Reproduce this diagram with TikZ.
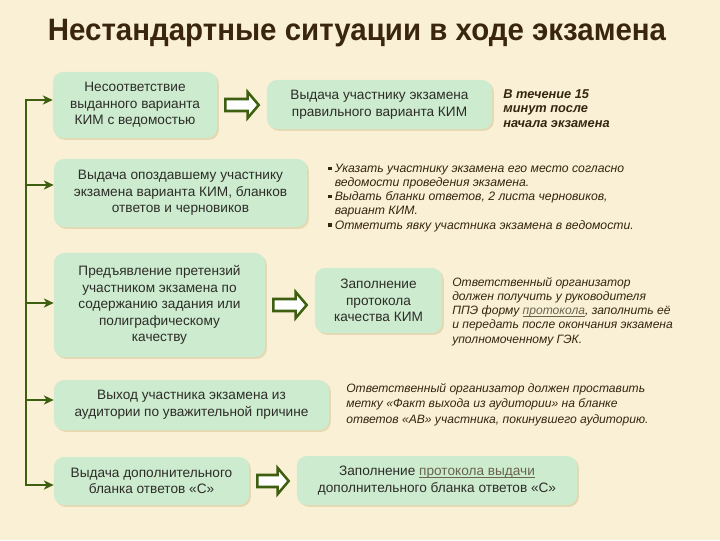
\documentclass[tikz,border=0pt]{standalone}
\usepackage{fontspec}
\setmainfont{Liberation Sans}
\usepackage{graphicx}
\usetikzlibrary{calc,shadows,arrows.meta}

\definecolor{paper}{RGB}{250,240,214}
\definecolor{mint}{RGB}{205,235,207}
\definecolor{boxshade}{RGB}{228,217,178}
\definecolor{olive}{RGB}{62,94,16}
\definecolor{headbrown}{RGB}{58,38,14}
\definecolor{notebrown}{RGB}{52,38,16}
\definecolor{boxtext}{RGB}{45,45,40}
\definecolor{linkgray}{RGB}{105,100,80}

\newcommand{\sqbul}{\makebox[4.6pt][l]{\rule[1.6pt]{2.4pt}{2.4pt}}}
\newcommand{\ind}{\hspace*{4.6pt}}
\newcommand{\ulink}[1]{{\color{linkgray}\underline{\smash{#1}}}}

% hollow block arrow from one box to the next
\newcommand{\blockarrow}[2]{%
  \draw[hollowarrow] let \p1 = ($(#1.east)+(8,0)$), \p2 = ($(#2.west |- #1.east)+(-8,0)$) in
    (\x1,{\y1+0.15cm}) -- ({\x2-0.275cm},{\y1+0.15cm}) -- ({\x2-0.275cm},{\y1+0.325cm})
    -- (\x2,\y1) -- ({\x2-0.275cm},{\y1-0.325cm}) -- ({\x2-0.275cm},{\y1-0.15cm})
    -- (\x1,{\y1-0.15cm}) -- cycle;}

\tikzset{
  kbox/.style={fill=mint, rounded corners=0.25cm, align=center, inner sep=2pt,
    text=boxtext, font=\fontsize{9.7}{11.8}\selectfont,
    drop shadow={shadow xshift=1.3pt, shadow yshift=-1.3pt, fill=boxshade, opacity=1}},
  notetext/.style={anchor=base west, align=left, inner sep=0pt, text=notebrown,
    font=\fontsize{8.7}{10.1}\selectfont\itshape},
  branch/.style={draw=olive, line width=2.1pt, >={Stealth[length=7pt,width=6.5pt,inset=2pt]}},
  hollowarrow/.style={draw=olive, fill=white, line width=1.8pt, line join=miter}
}

\begin{document}
\begin{tikzpicture}[x=0.025cm, y=-0.025cm]
  \fill[paper] (0,0) rectangle (720,540);
  \useasboundingbox (0,0) rectangle (720,540);

  % Title
  \node[anchor=base, text=headbrown, font=\bfseries\fontsize{22}{24}\selectfont] (title) at (357,40)
    {\resizebox{15.45cm}{\height}{Нестандартные ситуации в ходе экзамена}};

  % Boxes
  \node[kbox, minimum width=4.1cm, minimum height=1.65cm] (k1) at (135,105)
    {Несоответствие\\выданного варианта\\КИМ с ведомостью};
  \node[kbox, minimum width=5.625cm, minimum height=1.225cm] (k2) at (379.5,104.5)
    {Выдача участнику экзамена\\правильного варианта КИМ};
  \node[kbox, minimum width=6.325cm, minimum height=1.7cm] (k3) at (180.5,193)
    {Выдача опоздавшему участнику\\экзамена варианта КИМ, бланков\\ответов и черновиков};
  \node[kbox, minimum width=5.275cm, minimum height=2.6cm] (k4) at (159.5,305)
    {Предъявление претензий\\участником экзамена по\\содержанию задания или\\полиграфическому\\качеству};
  \node[kbox, minimum width=3.175cm, minimum height=1.625cm] (k5) at (378.5,300.5)
    {Заполнение\\протокола\\качества КИМ};
  \node[kbox, minimum width=6.875cm, minimum height=1.25cm] (k6) at (191.5,405)
    {Выход участника экзамена из\\аудитории по уважительной причине};
  \node[kbox, minimum width=4.875cm, minimum height=1.2cm] (k7) at (151.5,481)
    {Выдача дополнительного\\бланка ответов «С»};
  \node[kbox, minimum width=7cm, minimum height=1.225cm] (k8) at (437,480.5)
    {Заполнение \ulink{протокола выдачи}\\дополнительного бланка ответов «С»};

  % Notes (placed at the baseline of their last line)
  \node[notetext, font=\fontsize{9.1}{10.3}\selectfont\bfseries\itshape] (n1) at (503,127)
    {В течение 15\\минут после\\начала экзамена};
  \node[notetext] (n2) at (328,229)
    {\sqbul Указать участнику экзамена его место согласно\\
     \ind ведомости проведения экзамена.\\
     \sqbul Выдать бланки ответов, 2 листа черновиков,\\
     \ind вариант КИМ.\\
     \sqbul Отметить явку участника экзамена в ведомости.};
  \node[notetext, font=\fontsize{8.6}{10.1}\selectfont\itshape] (n3) at (452,343)
    {Ответственный организатор\\должен получить у руководителя\\
     ППЭ форму \ulink{протокола}, заполнить её\\
     и передать после окончания экзамена\\уполномоченному ГЭК.};
  \node[notetext, font=\fontsize{8.6}{11}\selectfont\itshape] (n4) at (346,423)
    {Ответственный организатор должен проставить\\
     метку «Факт выхода из аудитории» на бланке\\
     ответов «АВ» участника, покинувшего аудиторию.};

  % Hollow arrows
  \blockarrow{k1}{k2}
  \blockarrow{k4}{k5}
  \blockarrow{k7}{k8}

  % Trunk and branches
  \coordinate (b1) at (26,100);
  \coordinate (b2) at (26,185);
  \coordinate (b3) at (26,303);
  \coordinate (b4) at (26,400);
  \coordinate (b5) at (26,485);
  \draw[branch, <->] (b1 -| k1.west) -- (b1) -- (b5) -- (b5 -| k7.west);
  \foreach \b/\k in {b2/k3, b3/k4, b4/k6}
    \draw[branch, ->] (\b) -- (\b -| \k.west);
\end{tikzpicture}
\end{document}
